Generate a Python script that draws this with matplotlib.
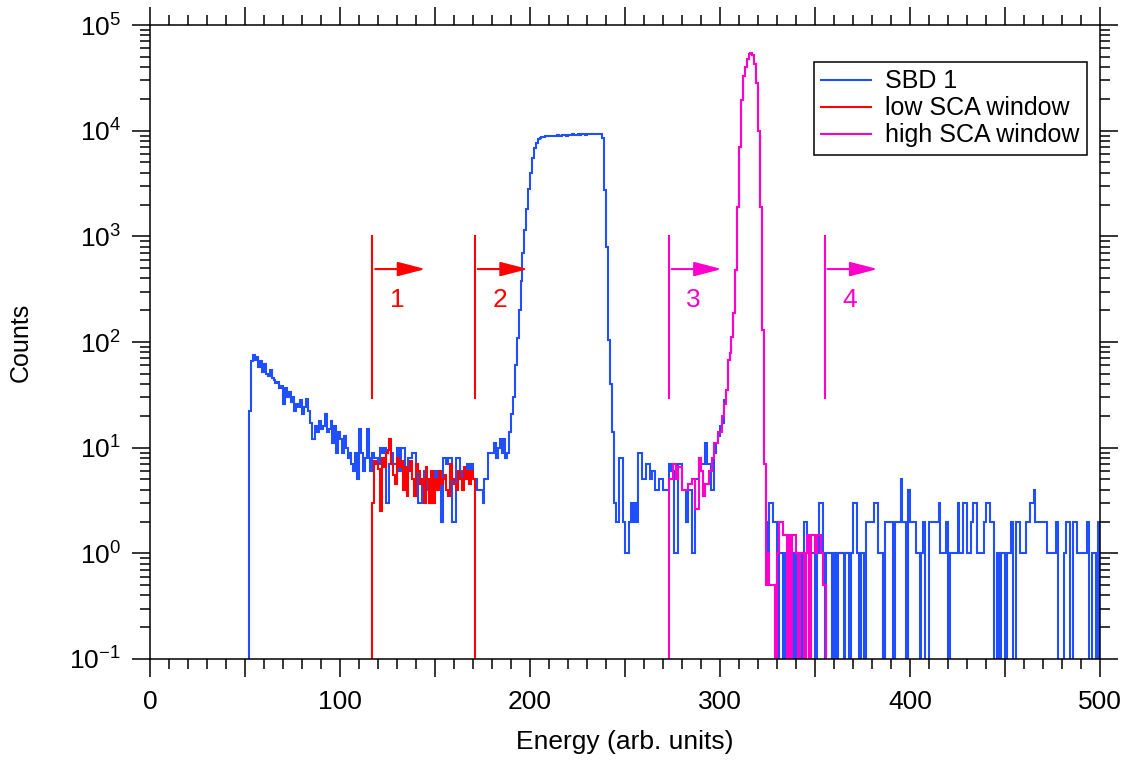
import matplotlib
matplotlib.use("Agg")
import matplotlib.pyplot as plt
import numpy as np
from matplotlib.ticker import FuncFormatter, LogLocator, MultipleLocator, NullFormatter

plt.rcParams["font.family"] = ["Liberation Sans", "DejaVu Sans"]
plt.rcParams["mathtext.fontset"] = "custom"
plt.rcParams["mathtext.rm"] = "Liberation Sans"
plt.rcParams["mathtext.default"] = "regular"
plt.rcParams["axes.unicode_minus"] = False

# ── Data (counts per 1-unit energy bin) ───────────────────────────────────────

E_MIN, E_MAX = 50, 500

# SBD 1 spectrum, split into pieces: (first bin, counts)
sbd_low_start = 52
sbd_low = [22, 66, 76, 68, 72, 58, 66, 52, 62, 50,
           48, 54, 46, 44, 41, 42, 37, 38, 26, 37,
           30, 34, 27, 30, 22, 26, 24, 28, 21, 24,
           29, 22, 17, 12, 12, 16, 14, 18, 15, 16,
           21, 14, 15, 18, 11, 16, 9, 14, 12, 9,
           13, 10, 8, 9, 7, 6, 9, 5, 15, 9,
           6, 8, 15, 8, 6]

sbd_valley_start = 117
sbd_valley = [9, 8, 8, 7, 10, 9, 10, 3, 3, 7,
              9, 7, 7, 10, 6, 10, 10, 6, 5, 8,
              8, 9, 9, 7, 3, 3, 5, 6, 5, 4,
              3, 3, 5, 6, 5, 5, 2, 8, 8, 7,
              8, 8, 2, 2, 8, 8, 5, 6, 5, 5,
              7, 6, 7, 5, 5, 4, 4, 4, 3, 5,
              5, 9, 9, 9, 11, 8, 10, 12, 9, 12,
              8]

sbd_plateau_start = 188
sbd_plateau = [9, 14, 21, 30, 60, 110, 200, 380, 700, 1150,
               1800, 2800, 4000, 5500, 6800, 7700, 8300, 8600,
               8700, 8800, 8900, 8900, 9000, 9000, 8900, 9000, 9100, 9000,
               9000, 9100, 9100, 9000, 9100, 9100, 9200, 9100, 9100, 9200,
               9100, 9200, 9200, 9100, 9200, 9200, 9300, 9200, 9200, 9300,
               9200, 9200,
               8600, 2750, 800, 104, 40, 14]

sbd_gap_start = 244
sbd_gap = [3, 2, 2, 8, 8, 2, 1, 1, 2, 3,
           2, 3, 2, 9, 9, 5, 5, 7, 7, 5,
           6, 6, 4, 4, 5, 5, 4, 4, 4, 7,
           6, 6, 1, 1, 7, 7, 4, 4, 2, 4,
           4, 1, 1, 5, 5, 8, 7, 7, 11, 7,
           7, 4, 4, 9, 11, 13, 16, 17, 28, 35]

sbd_peak_start = 304
sbd_peak = [68, 78, 112, 187, 480, 1900, 7000, 19500, 33000, 40000,
            48000, 53000, 54000, 52000, 43000, 28000, 10000, 1900, 130, 7]

sbd_tail_start = 324
sbd_tail = [2, 1, 3, 3, 2, 2, 0, 1, 1, 0,
            1, 0, 1, 1, 0, 1, 0, 1, 1, 0,
            2, 2, 1, 0, 1, 1, 0, 1, 3, 3,
            1, 0, 1, 1, 1, 0, 1, 0, 1, 1,
            1, 0, 1, 1, 0, 1, 3, 3, 1, 0,
            1, 1, 0, 2, 2,
            2, 2, 3, 3, 1, 1, 1, 0, 2, 2,
            2, 2, 0, 2, 2, 2, 5, 2, 2, 0,
            4, 2, 2, 2, 1, 1, 0, 1, 2, 0,
            0, 2, 2, 2, 2, 2, 3, 1, 1, 1,
            2, 0, 1, 1, 1, 1, 3, 1, 1, 3,
            3, 1, 1, 2, 3, 3, 1, 1, 1, 1,
            2, 3, 3, 2, 2, 0, 0, 1, 0, 1,
            1, 0, 1, 1, 2, 0, 0, 2, 2, 1,
            1, 1, 2, 2, 3, 3, 4, 2, 2, 2,
            2, 2, 2, 1, 1, 1, 1, 1, 2, 0,
            0, 0, 1, 2, 2, 0, 0, 2, 2, 1,
            1, 1, 1, 1, 2, 0, 0, 1, 1, 0,
            2]

# low SCA window (gated spectrum)
low_start = 117
low_sca = [3, 7.5, 7, 6.3, 2.5, 8, 6.5, 9, 9.5, 12,
           7, 5.5, 4.5, 8, 6.5, 7.5, 4, 6.5, 3.5, 6,
           7.5, 5, 3.5, 7, 6, 4.5, 5, 3, 6.5, 5,
           3, 6, 3, 5, 4, 6, 4.5, 5, 5.5, 4,
           3.5, 7, 5, 4.5, 4, 6, 5, 4, 6.5, 5,
           6, 4.5, 6, 5]

# high SCA window (gated spectrum); its peak coincides with SBD 1
high_start = 273
high_lo = [5, 5, 7, 7, 5, 6.5, 6.5, 4, 4, 4,
           4.5, 4.5, 5, 5, 2.6, 2.6, 8, 6, 3.5, 4.5,
           4.5, 6, 6, 8, 11, 11, 14, 14, 20, 26,
           35]
high_peak = sbd_peak
high_tail = [0.5, 1, 0.5, 0.5, 0.5, 0, 1, 2, 2, 1.5,
             1.5, 0, 1.5, 0, 1.5, 1.5, 1, 0, 1, 1,
             0, 1, 1.5, 0, 1.5, 1.5, 1, 1.5, 1.5, 1,
             0.5, 0.5]

# discriminator thresholds drawn as markers
thresholds = [117, 171, 273, 355]
threshold_labels = ["1", "2", "3", "4"]

COL_SBD = "#1f4fff"
COL_LOW = "#ff0000"
COL_HIGH = "#ff00cc"
threshold_colors = [COL_LOW, COL_LOW, COL_HIGH, COL_HIGH]


def fill_counts(segments):
    counts = np.zeros(E_MAX - E_MIN)
    for start, vals in segments:
        i = start - E_MIN
        counts[i:i + len(vals)] = vals
    return counts


edges = np.arange(E_MIN, E_MAX + 1)
sbd = fill_counts([
    (sbd_low_start, sbd_low),
    (sbd_valley_start, sbd_valley),
    (sbd_plateau_start, sbd_plateau),
    (sbd_gap_start, sbd_gap),
    (sbd_peak_start, sbd_peak),
    (sbd_tail_start, sbd_tail),
])
low = fill_counts([(low_start, low_sca)])
high = fill_counts([
    (high_start, high_lo),
    (high_start + len(high_lo), high_peak),
    (high_start + len(high_lo) + len(high_peak), high_tail),
])

# ── Plot ──────────────────────────────────────────────────────────────────────

FLOOR = 1e-3  # empty bins drop below the axis

fig = plt.figure(figsize=(11.28, 7.63), dpi=100)
ax = fig.add_axes([150 / 1128, 1 - 659 / 763, 950 / 1128, 634 / 763])

for counts, color, label in [
    (sbd, COL_SBD, "SBD 1"),
    (low, COL_LOW, "low SCA window"),
    (high, COL_HIGH, "high SCA window"),
]:
    ax.stairs(np.where(counts > 0, counts, FLOOR), edges, baseline=FLOOR,
              color=color, linewidth=1.5, label=label)

# threshold markers with arrows
line_lo, line_hi = 29.5, 1000
arrow_y, num_y = 490, 250
for x, txt, col in zip(thresholds, threshold_labels, threshold_colors):
    ax.plot([x, x], [line_lo, line_hi], color=col, linewidth=1.5)
    ax.annotate("", xy=(x + 28, arrow_y), xytext=(x + 1.5, arrow_y),
                arrowprops=dict(arrowstyle="-|>,head_length=0.85,head_width=0.22",
                                color=col, linewidth=1.5, mutation_scale=20,
                                shrinkA=0, shrinkB=0))
    ax.text(x + 13, num_y, txt, color=col, fontsize=19, ha="center", va="center")

ax.set_yscale("log")
ax.set_xlim(0, 500)
ax.set_ylim(0.1, 1e5)

# x: labelled ticks every 100, medium ticks at the half-hundreds, minor every 10
ax.xaxis.set_major_locator(MultipleLocator(50))
ax.xaxis.set_minor_locator(MultipleLocator(10))
ax.xaxis.set_major_formatter(FuncFormatter(lambda v, p: "" if v % 100 else f"{v:.0f}"))
ax.yaxis.set_major_locator(LogLocator(base=10, numticks=10))
ax.yaxis.set_minor_locator(LogLocator(base=10, subs=np.arange(2, 10), numticks=20))
ax.yaxis.set_minor_formatter(NullFormatter())

ax.tick_params(which="both", direction="out", top=True, right=True, width=1.1,
               labelsize=19)
ax.tick_params(which="major", length=13)
ax.tick_params(which="minor", length=7)
ax.tick_params(axis="x", pad=9)
ax.tick_params(axis="y", pad=8)
for sp in ax.spines.values():
    sp.set_linewidth(1.1)

for tick in ax.xaxis.get_major_ticks():
    if tick.get_loc() % 100:
        tick.tick1line.set_markersize(9.5)
        tick.tick2line.set_markersize(9.5)

ax.set_xlabel("Energy (arb. units)", fontsize=19, labelpad=12)
ax.set_ylabel("Counts", fontsize=18, labelpad=26)

leg = ax.legend(loc="upper right", bbox_to_anchor=(0.986, 0.942), fontsize=18,
                frameon=True, fancybox=False, edgecolor="black", framealpha=1,
                handlelength=2.0, handletextpad=0.55, borderpad=0.3,
                labelspacing=0.12, borderaxespad=0)
leg.get_frame().set_linewidth(1.1)

fig.savefig("out.png", dpi=100)
